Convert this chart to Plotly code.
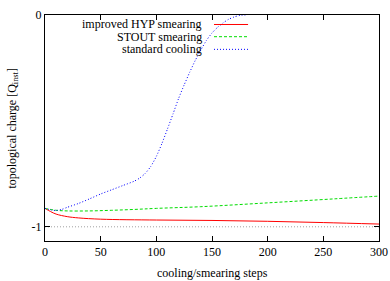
import plotly.graph_objects as go

# standard cooling
cool_x = [0, 5, 10, 15, 20, 30, 40, 50, 60, 70, 80, 85, 90, 95, 100, 105, 110, 115, 120, 125, 130, 135, 140, 145, 150, 155, 160, 165, 170, 175, 180]
cool_y = [-0.913, -0.92, -0.923, -0.918, -0.908, -0.89, -0.868, -0.845, -0.825, -0.805, -0.785, -0.77, -0.748, -0.715, -0.668, -0.607, -0.538, -0.467, -0.394, -0.33, -0.27, -0.214, -0.165, -0.12, -0.085, -0.058, -0.037, -0.02, -0.009, -0.002, 0.0]

# STOUT smearing
stout_x = [0, 10, 20, 40, 60, 80, 100, 140, 200, 260, 300]
stout_y = [-0.913, -0.922, -0.925, -0.925, -0.922, -0.918, -0.913, -0.905, -0.887, -0.868, -0.855]

# improved HYP smearing
hyp_x = [0, 5, 10, 20, 30, 50, 100, 150, 200, 250, 300]
hyp_y = [-0.913, -0.928, -0.94, -0.952, -0.958, -0.964, -0.968, -0.970, -0.974, -0.980, -0.987]

ref_x = [0, 300]
ref_y = [-1, -1]

x_ticks = [0, 50, 100, 150, 200, 250, 300]
y_ticks = [-1, 0]
y_tick_labels = ["-1", "0"]

legend_names = ["improved HYP smearing", "STOUT smearing", "standard cooling"]
legend_colors = ["#ff0000", "#00dd00", "#0000ff"]
legend_dash = ["solid", "3px,2px", "1px,2px"]

FONT = "Liberation Serif"

fig = go.Figure()
fig.add_trace(go.Scatter(x=ref_x, y=ref_y, mode="lines",
                         line=dict(color="#a0a0a0", width=1, dash="1px,2px"), showlegend=False))
fig.add_trace(go.Scatter(x=hyp_x, y=hyp_y, mode="lines", line_shape="spline",
                         line=dict(color=legend_colors[0], width=1, dash=legend_dash[0]), showlegend=False))
fig.add_trace(go.Scatter(x=stout_x, y=stout_y, mode="lines", line_shape="spline",
                         line=dict(color=legend_colors[1], width=1, dash=legend_dash[1]), showlegend=False))
fig.add_trace(go.Scatter(x=cool_x, y=cool_y, mode="lines", line_shape="spline",
                         line=dict(color=legend_colors[2], width=1, dash=legend_dash[2], smoothing=0.6),
                         showlegend=False))

# legend (text left of sample, gnuplot style)
leg_y = [0.958, 0.904, 0.848]
for name, col, dash, yy in zip(legend_names, legend_colors, legend_dash, leg_y):
    fig.add_annotation(xref="paper", yref="paper", x=0.477, y=yy, text=name,
                       showarrow=False, xanchor="right", yanchor="middle",
                       font=dict(family=FONT, size=12, color="black"))
    fig.add_shape(type="line", xref="paper", yref="paper", x0=0.506, x1=0.608, y0=yy, y1=yy,
                  line=dict(color=col, width=1, dash=dash))

# axis titles
fig.add_annotation(xref="paper", yref="paper", x=0.5, y=-0.14, text="cooling/smearing steps",
                   showarrow=False, xanchor="center", yanchor="middle",
                   font=dict(family=FONT, size=12, color="black"))
fig.add_annotation(xref="paper", yref="paper", x=-0.097, y=0.5,
                   text="topological charge [Q<sub>inst</sub>]", textangle=-90,
                   showarrow=False, xanchor="center", yanchor="middle",
                   font=dict(family=FONT, size=12, color="black"))

axis_common = dict(showgrid=False, zeroline=False, showline=True, linecolor="black", linewidth=1,
                   mirror="ticks", ticks="inside", ticklen=5, tickcolor="black", automargin=False,
                   tickfont=dict(family=FONT, size=12, color="black"))

fig.update_xaxes(range=[0, 300], tickvals=x_ticks, **axis_common)
fig.update_yaxes(range=[-1.067, 0], tickvals=y_ticks, ticktext=y_tick_labels, **axis_common)

fig.update_layout(width=390, height=281, margin=dict(l=45, r=11, t=15, b=40),
                  plot_bgcolor="white", paper_bgcolor="white", showlegend=False,
                  hovermode=False,
                  font=dict(family=FONT, size=12, color="black"))

fig.write_html("out.html", config={"displayModeBar": False, "staticPlot": True},
               post_script="document.body.style.margin='0';document.body.style.overflow='hidden';")
